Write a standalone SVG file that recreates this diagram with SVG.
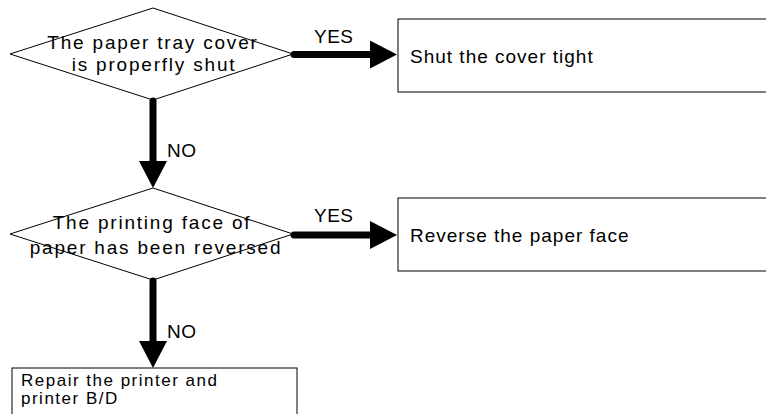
<svg xmlns="http://www.w3.org/2000/svg" width="766" height="414" viewBox="0 0 766 414">
<style>
.shape{fill:#fff;stroke:#000;stroke-width:1}
.t{font-family:"Liberation Sans",Arial,sans-serif;font-size:19px;fill:#000}
.dt{letter-spacing:1.8px;text-anchor:middle}
.bt{letter-spacing:1px}
.lbl{letter-spacing:0.5px}
.b3t{font-size:17px;letter-spacing:1.5px}
.conn{stroke:#000;stroke-width:7;stroke-linecap:round;fill:none;marker-end:url(#ah)}
</style>
<defs>
<marker id="ah" markerUnits="userSpaceOnUse" markerWidth="28" markerHeight="28" refX="5" refY="14" orient="auto">
<path d="M0,0 L27,14 L0,28 z" fill="#000"/>
</marker>
</defs>
<rect width="766" height="414" fill="#fff"/>
<g id="d1">
<polygon class="shape" points="10,54 153,8 293,54 153,100"/>
<text class="t dt" x="153" y="49">The paper tray cover</text>
<text class="t dt" x="154" y="70.5">is properfly shut</text>
</g>
<g id="b1">
<rect class="shape" x="398" y="19" width="400" height="73"/>
<text class="t bt" x="410" y="62.5">Shut the cover tight</text>
</g>
<g id="d2">
<polygon class="shape" points="10,234 153,188 293,234 153,280"/>
<text class="t dt" x="152" y="229">The printing face of</text>
<text class="t dt" x="156" y="254">paper has been reversed</text>
</g>
<g id="b2">
<rect class="shape" x="398" y="198" width="400" height="73"/>
<text class="t bt" x="410" y="241.5">Reverse the paper face</text>
</g>
<g id="b3">
<rect class="shape" x="12" y="368" width="285" height="60"/>
<text class="t b3t" x="21" y="386">Repair the printer and</text>
<text class="t b3t" x="21" y="404">printer B/D</text>
</g>
<g id="connectors">
<line class="conn" x1="294" y1="54.5" x2="375" y2="54.5"/>
<line class="conn" x1="153" y1="101" x2="153" y2="166"/>
<line class="conn" x1="294" y1="235" x2="375" y2="235"/>
<line class="conn" x1="153" y1="281" x2="153" y2="346"/>
<text class="t lbl" x="314" y="42.5">YES</text>
<text class="t lbl" x="167" y="157">NO</text>
<text class="t lbl" x="314" y="222">YES</text>
<text class="t lbl" x="167" y="338">NO</text>
</g>
</svg>
